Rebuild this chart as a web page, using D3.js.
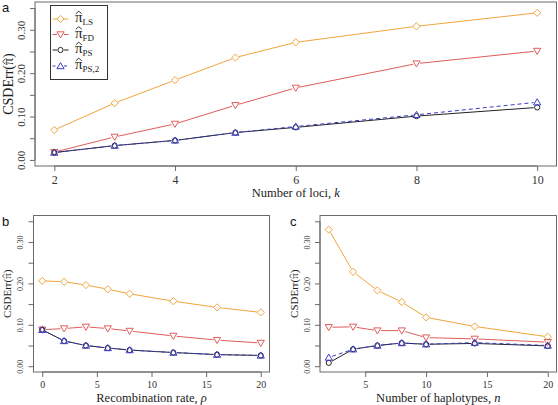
<!DOCTYPE html>
<html><head><meta charset="utf-8">
<script src="https://cdn.jsdelivr.net/npm/d3@7"></script>
<style>body{margin:0;background:#fff}svg{display:block}</style>
</head><body>
<svg id="c" width="558" height="405"></svg>
<script>
// Panel a: number of loci
const lociK = [2,3,4,5,6,8,10];
const aLS  = [0.069,0.131,0.184,0.236,0.271,0.308,0.339];
const aFD  = [0.018,0.053,0.083,0.126,0.166,0.222,0.251];
const aPS  = [0.017,0.033,0.045,0.063,0.075,0.101,0.121];
const aPS2 = [0.017,0.033,0.045,0.063,0.077,0.104,0.133];
// Panel b: recombination rate
const rho = [0,2,4,6,8,12,16,20];
const bLS  = [0.206,0.204,0.196,0.186,0.175,0.157,0.142,0.130];
const bFD  = [0.088,0.091,0.095,0.091,0.085,0.073,0.063,0.056];
const bPS  = [0.088,0.061,0.050,0.044,0.039,0.033,0.028,0.026];
const bPS2 = [0.088,0.061,0.050,0.044,0.039,0.033,0.028,0.026];
// Panel c: number of haplotypes
const hapN = [2,4,6,8,10,14,20];
const cLS  = [0.330,0.228,0.183,0.155,0.118,0.096,0.071];
const cFD  = [0.094,0.095,0.086,0.086,0.069,0.066,0.058];
const cPS  = [0.008,0.041,0.050,0.056,0.053,0.055,0.049];
const cPS2 = [0.021,0.041,0.050,0.056,0.053,0.057,0.050];

const yTicks = [0,0.05,0.10,0.15,0.20,0.25,0.30,0.35];
const yLabeled = [0,0.10,0.20,0.30];
const seriesNames = ["LS","FD","PS","PS,2"];
const colors = ["#F2A53C","#E05C5C","#222222","#3B3BC8"];
const shapes = ["diamond","down","circle","up"];

const svg = d3.select("#c");
const serif = "\"Liberation Serif\", \"Times New Roman\", \"DejaVu Serif\", serif";

function marker(g, shape, x, y, col){
  const s = 3.6;
  if(shape==="circle"){
    g.append("circle").attr("cx",x).attr("cy",y).attr("r",2.6)
      .attr("fill","none").attr("stroke",col).attr("stroke-width",1);
  } else {
    let p;
    if(shape==="diamond") p=[[x,y-s],[x+s,y],[x,y+s],[x-s,y]];
    else if(shape==="down") p=[[x-s,y-s*0.75],[x+s,y-s*0.75],[x,y+s*0.95]];
    else p=[[x-s,y+s*0.75],[x+s,y+s*0.75],[x,y-s*0.95]];
    g.append("path").attr("d","M"+p.map(d=>d.join(",")).join("L")+"Z")
      .attr("fill","none").attr("stroke",col).attr("stroke-width",1);
  }
}

// small circumflex accent drawn as a path, centred at cx, baseline-relative
function hat(g, cx, baseY, s){
  const w = 0.2*s, y0 = baseY-0.55*s, y1 = baseY-0.72*s;
  g.append("path").attr("d",`M${cx-w},${y0}L${cx},${y1}L${cx+w},${y0}`)
    .attr("fill","none").attr("stroke","#222").attr("stroke-width",Math.max(0.7,s*0.06));
}

function panel(opt){
  const {L,R,T,B,xdom,xTicks,xs,ys,xTitle,tickFont,yTickFont,yTitleFont,yTitleX,xTickY,xTitleY,xTitleFont} = opt;
  const x = d3.scaleLinear().domain(xdom).range([L,R]);
  const y = d3.scaleLinear().domain([-0.014,0.364]).range([B,T]);
  const g = svg.append("g");
  g.append("rect").attr("x",L).attr("y",T).attr("width",R-L).attr("height",B-T)
    .attr("fill","none").attr("stroke","#6a6a6a").attr("stroke-width",1);
  // y axis
  const ya = d3.axisLeft(y).tickValues(yTicks).tickSize(5)
    .tickFormat(d=> yLabeled.some(v=>Math.abs(v-d)<1e-9) ? d3.format(".2f")(d) : "");
  const yg = g.append("g").attr("transform",`translate(${L},0)`).call(ya);
  yg.attr("font-family",null);
  yg.select(".domain").attr("stroke","#6a6a6a").attr("d",`M0,${y(0)}V${y(0.35)}`);
  yg.selectAll(".tick line").attr("stroke","#6a6a6a");
  yg.selectAll(".tick text").style("font-family",serif).attr("font-size",yTickFont)
    .attr("fill","#333").attr("text-anchor","middle").attr("dy",null).attr("x",0).attr("y",0)
    .attr("dominant-baseline","middle")
    .attr("transform",`translate(${opt.yTickX-L},0) rotate(-90)`);
  // x axis
  const xa = d3.axisBottom(x).tickValues(xTicks).tickSize(5).tickFormat(d3.format("d"));
  const xg = g.append("g").attr("transform",`translate(0,${B})`).call(xa);
  xg.attr("font-family",null);
  xg.select(".domain").attr("stroke","#6a6a6a").attr("d",`M${x(xTicks[0])},0H${x(xTicks[xTicks.length-1])}`);
  xg.selectAll(".tick line").attr("stroke","#6a6a6a");
  xg.selectAll(".tick text").style("font-family",serif).attr("font-size",tickFont)
    .attr("fill","#333").attr("y",xTickY-B).attr("dy",null);
  // titles
  g.append("text").attr("x",(L+R)/2).attr("y",xTitleY).attr("text-anchor","middle")
    .style("font-family",serif).attr("font-size",xTitleFont).attr("fill","#222")
    .html(xTitle);
  const yt = g.append("g").attr("transform",`translate(${yTitleX},${(T+B)/2}) rotate(-90)`);
  const s = yTitleFont;
  const yText = yt.append("text").attr("text-anchor","middle").style("font-family",serif)
    .attr("font-size",s).attr("fill","#222");
  yText.append("tspan").text("CSDErr(");
  yText.append("tspan").attr("class","pi").text("\u03C0");
  yText.append("tspan").text(")");
  const piNode = yText.select(".pi").node();
  const ext = piNode.getExtentOfChar(0);
  hat(yt, ext.x+ext.width/2, 0, s);
  // series
  ys.forEach((vals,i)=>{
    const pts = xs.map((v,j)=>[x(v),y(vals[j])]);
    const gap = 3.6;
    const sg = g.append("g");
    for(let j=0;j<pts.length-1;j++){
      const [x1,y1]=pts[j],[x2,y2]=pts[j+1];
      const dx=x2-x1, dy=y2-y1, len=Math.hypot(dx,dy);
      if(len<=2*gap) continue;
      const ux=dx/len, uy=dy/len;
      sg.append("line").attr("x1",x1+ux*gap).attr("y1",y1+uy*gap)
        .attr("x2",x2-ux*gap).attr("y2",y2-uy*gap)
        .attr("stroke",colors[i]).attr("stroke-width",1)
        .attr("stroke-dasharray", i===3 ? "4,3" : null);
    }
    pts.forEach(p=>marker(sg,shapes[i],p[0],p[1],colors[i]));
  });
  return g;
}

panel({L:35,R:556.5,T:2,B:166,xdom:[1.68,10.32],xTicks:[2,4,6,8,10],xs:lociK,
  ys:[aLS,aFD,aPS,aPS2],xTitle:"Number of loci, <tspan font-style='italic'>k</tspan>",
  tickFont:12,yTickFont:11,yTitleFont:14,yTitleX:13,yTickX:22.5,xTickY:184,xTitleY:197,xTitleFont:12.5});
panel({L:33.5,R:269.5,T:215.5,B:372,xdom:[-0.8,20.8],xTicks:[0,5,10,15,20],xs:rho,
  ys:[bLS,bFD,bPS,bPS2],xTitle:"Recombination rate, <tspan font-style='italic'>\u03C1</tspan>",
  tickFont:10,yTickFont:8,yTitleFont:11,yTitleX:10.5,yTickX:21,xTickY:387.5,xTitleY:402,xTitleFont:12.5});
panel({L:320,R:556.5,T:215.5,B:372,xdom:[1.28,20.72],xTicks:[5,10,15,20],xs:hapN,
  ys:[cLS,cFD,cPS,cPS2],xTitle:"Number of haplotypes, <tspan font-style='italic'>n</tspan>",
  tickFont:10,yTickFont:8,yTitleFont:11,yTitleX:297.5,yTickX:308,xTickY:387.5,xTitleY:402,xTitleFont:12.5});

// panel letters
const sans="\"Liberation Sans\", Arial, sans-serif";
[["a",2,12],["b",2,226],["c",290,226]].forEach(([t,x,y])=>{
  svg.append("text").attr("x",x).attr("y",y).style("font-family",sans)
    .attr("font-size",13).attr("fill","#111").text(t);
});

// legend
const lg = svg.append("g");
lg.append("rect").attr("x",50.5).attr("y",5.5).attr("width",57).attr("height",74)
  .attr("fill","#fff").attr("stroke","#333").attr("stroke-width",1);
const legY = [19,34.5,50,66];
seriesNames.forEach((nm,i)=>{
  const yy = legY[i];
  [[52.5,57],[64,68.5]].forEach(([a,b])=>{
    lg.append("line").attr("x1",a).attr("x2",b).attr("y1",yy).attr("y2",yy)
      .attr("stroke",colors[i]).attr("stroke-width",1)
      .attr("stroke-dasharray", i===3 ? "3,2" : null);
  });
  marker(lg,shapes[i],60.5,yy,colors[i]);
  const base = yy+3;
  const t = lg.append("text").attr("x",75).attr("y",base).style("font-family",serif)
    .attr("font-size",15).attr("fill","#222");
  const pt = t.append("tspan").text("\u03C0");
  t.append("tspan").attr("font-size",9).attr("dy",3).text(nm);
  const e = pt.node().getExtentOfChar(0);
  hat(lg, e.x+e.width/2, base, 15);
});
</script>
</body></html>
